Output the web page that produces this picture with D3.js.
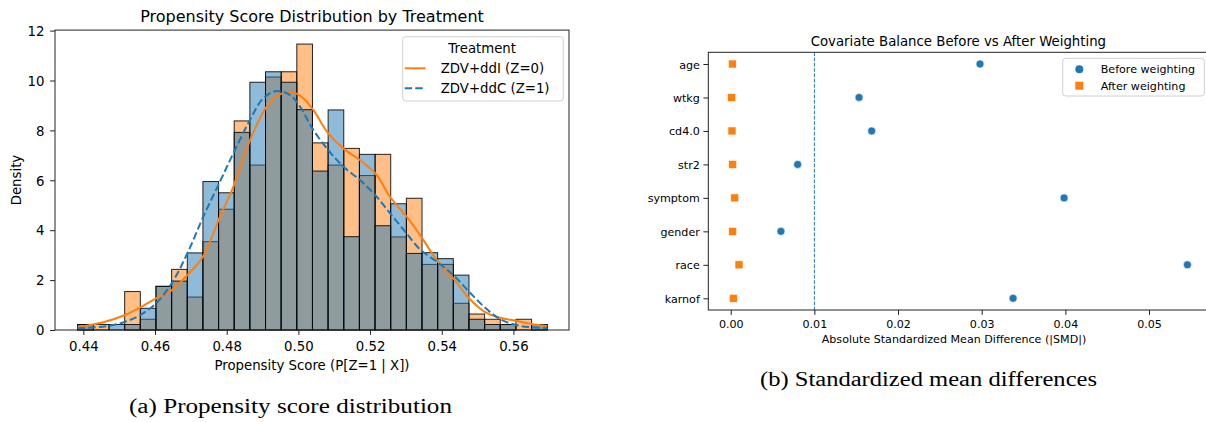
<!DOCTYPE html>
<html>
<head>
<meta charset="utf-8">
<script src="https://cdn.jsdelivr.net/npm/d3@7"></script>
<style>
  body { margin: 0; background: #fff; }
  svg { display: block; }
  text { font-family: "DejaVu Sans", sans-serif; fill: #000; }
  .caption { font-family: "Liberation Serif", serif; }
</style>
</head>
<body>
<svg width="1206" height="422"></svg>
<script>
// ---- data: propensity score histogram (density, 30 bins) ----
const binStart = 0.43844;
const binWidth = 0.004366;
const densZ0 = [0.22, 0.22, 0, 1.54, 0.43, 1.75, 2.43, 1.32, 3.54, 4.84, 8.38, 6.61, 10.14, 10.35, 11.46,
  7.50, 6.61, 7.28, 6.19, 7.04, 3.73, 5.28, 2.63, 2.63, 1.07, 0.64, 0.43, 0.22, 0.43, 0.22];
const densZ1 = [0.22, 0, 0.22, 0.22, 0.87, 1.75, 1.96, 3.09, 5.95, 5.50, 7.92, 9.93, 10.35, 9.93, 8.83,
  6.37, 8.82, 3.74, 7.04, 4.18, 5.06, 3.07, 3.10, 2.86, 2.20, 0.43, 0.22, 0.22, 0, 0.22];

// kde curves: [score, density]
const kdeZ0 = [[0.43844, 0.11], [0.44605, 0.33], [0.45163, 0.60], [0.4559, 0.91], [0.46028, 1.27],
  [0.46466, 1.60], [0.46901, 2.20], [0.47339, 2.94], [0.47813, 4.54], [0.48184, 5.74], [0.4865, 7.60],
  [0.49116, 8.95], [0.49487, 9.45], [0.49821, 9.54], [0.50128, 9.30], [0.50416, 8.82], [0.50834, 7.88],
  [0.51252, 7.28], [0.51718, 6.81], [0.52184, 6.21], [0.52555, 5.34], [0.53021, 4.54], [0.53392, 3.81],
  [0.53858, 2.81], [0.54321, 2.07], [0.54759, 1.27], [0.55197, 0.73], [0.55632, 0.49], [0.5607, 0.37],
  [0.56508, 0.24], [0.56943, 0.16]];
const kdeZ1 = [[0.43844, 0.07], [0.44697, 0.16], [0.45163, 0.33], [0.4559, 0.60], [0.46028, 1.07],
  [0.46466, 1.87], [0.46901, 3.07], [0.47347, 4.54], [0.47813, 5.95], [0.48184, 7.08], [0.4865, 8.42],
  [0.49021, 9.29], [0.49395, 9.58], [0.49766, 9.42], [0.50045, 8.95], [0.50416, 8.02], [0.50834, 7.21],
  [0.51252, 6.55], [0.51718, 6.01], [0.52184, 5.34], [0.52555, 4.68], [0.53021, 3.87], [0.53392, 3.23],
  [0.53858, 2.74], [0.54321, 2.20], [0.54759, 1.54], [0.55197, 0.91], [0.55632, 0.43], [0.5607, 0.20],
  [0.56508, 0.11], [0.56943, 0.07]];

const psTicks = [0.44, 0.46, 0.48, 0.50, 0.52, 0.54, 0.56];
const densTicks = [0, 2, 4, 6, 8, 10, 12];

// ---- data: covariate balance ----
const covariates = ["age", "wtkg", "cd4.0", "str2", "symptom", "gender", "race", "karnof"];
const smdBefore = [0.0298, 0.01534, 0.01685, 0.0080, 0.03985, 0.0060, 0.05459, 0.03375];
const smdAfter = [0.0002, 0.0001, 0.00015, 0.00024, 0.00048, 0.00024, 0.00099, 0.00031];
const smdTicks = [0, 0.01, 0.02, 0.03, 0.04, 0.05];
const smdThreshold = 0.01;

const blue = "#1f77b4";
const orange = "#ff7f0e";

const svg = d3.select("svg");

// ================= left panel =================
const L = { left: 55, right: 569, top: 30.1, bottom: 330 };
const x1 = d3.scaleLinear().domain([0.4321, 0.5755]).range([L.left, L.right]);
const y1 = d3.scaleLinear().domain([0, 12.02]).range([L.bottom, L.top]);

const left = svg.append("g").attr("id", "left");

function bars(dens, color) {
  left.append("g")
    .selectAll("rect")
    .data(dens)
    .enter()
    .append("rect")
    .attr("x", (d, i) => x1(binStart + i * binWidth))
    .attr("width", (d, i) => x1(binStart + (i + 1) * binWidth) - x1(binStart + i * binWidth))
    .attr("y", (d) => y1(d))
    .attr("height", (d) => y1(0) - y1(d))
    .attr("fill", color)
    .attr("fill-opacity", 0.5)
    .attr("stroke", "#000")
    .attr("stroke-opacity", (d) => (d > 0 ? 0.85 : 0))
    .attr("stroke-width", 1);
}
bars(densZ0, orange);
bars(densZ1, blue);

const kdeLine = d3.line()
  .x((d) => x1(d[0]))
  .y((d) => y1(d[1]))
  .curve(d3.curveCatmullRom);

left.append("path")
  .attr("d", kdeLine(kdeZ0))
  .attr("fill", "none")
  .attr("stroke", orange)
  .attr("stroke-width", 2);

left.append("path")
  .attr("d", kdeLine(kdeZ1))
  .attr("fill", "none")
  .attr("stroke", blue)
  .attr("stroke-width", 2)
  .attr("stroke-dasharray", "7.4,3.2");

left.append("rect")
  .attr("x", L.left).attr("y", L.top)
  .attr("width", L.right - L.left).attr("height", L.bottom - L.top)
  .attr("fill", "none").attr("stroke", "#222").attr("stroke-width", 1);

const xAxis1 = left.append("g")
  .attr("transform", `translate(0,${L.bottom})`)
  .call(d3.axisBottom(x1).tickValues(psTicks).tickFormat(d3.format(".2f")).tickSize(4.9).tickPadding(0));
xAxis1.select(".domain").remove();
xAxis1.selectAll("line").attr("stroke", "#222");
xAxis1.selectAll("text").attr("y", 21).attr("dy", null)
  .style("font-size", "13.3px").style("font-family", "DejaVu Sans");

const yAxis1 = left.append("g")
  .attr("transform", `translate(${L.left},0)`)
  .call(d3.axisLeft(y1).tickValues(densTicks).tickSize(4.9).tickPadding(0));
yAxis1.select(".domain").remove();
yAxis1.selectAll("line").attr("stroke", "#222");
yAxis1.selectAll("text").attr("x", -10.5).attr("dy", "0.36em")
  .style("font-size", "13.3px").style("font-family", "DejaVu Sans");

left.append("text")
  .attr("x", (L.left + L.right) / 2).attr("y", 21.5)
  .attr("text-anchor", "middle").style("font-size", "16px")
  .text("Propensity Score Distribution by Treatment");

left.append("text")
  .attr("x", (L.left + L.right) / 2).attr("y", 370)
  .attr("text-anchor", "middle").style("font-size", "13.3px")
  .text("Propensity Score (P[Z=1 | X])");

left.append("text")
  .attr("transform", `translate(21,${(L.top + L.bottom) / 2}) rotate(-90)`)
  .attr("text-anchor", "middle").style("font-size", "13.3px")
  .text("Density");

// legend
const leg1 = left.append("g").attr("transform", "translate(402.7,36.7)");
leg1.append("rect")
  .attr("width", 160.6).attr("height", 64.3).attr("rx", 3)
  .attr("fill", "#fff").attr("fill-opacity", 0.8)
  .attr("stroke", "#d0d0d0").attr("stroke-width", 1);
leg1.append("text").attr("x", 79.5).attr("y", 16.8)
  .attr("text-anchor", "middle").style("font-size", "13.3px").text("Treatment");
const legItems1 = [
  { label: "ZDV+ddI (Z=0)", color: orange, dash: null },
  { label: "ZDV+ddC (Z=1)", color: blue, dash: "7.4,3.2" },
];
legItems1.forEach((d, i) => {
  const yy = 31.6 + i * 20;
  leg1.append("line")
    .attr("x1", 2).attr("x2", 23).attr("y1", yy).attr("y2", yy)
    .attr("stroke", d.color).attr("stroke-width", 2)
    .attr("stroke-dasharray", d.dash);
  leg1.append("text").attr("x", 38).attr("y", yy + 4.8)
    .style("font-size", "13.3px").text(d.label);
});

// ================= right panel =================
const R = { left: 708.3, right: 1208.4, top: 52.3, bottom: 310 };
const x2 = d3.scaleLinear().domain([-0.00268, 0.0571]).range([R.left, R.right]);
const y2 = d3.scaleLinear().domain([-0.35, covariates.length - 1 + 0.35]).range([R.top, R.bottom]);

const right = svg.append("g").attr("id", "right");

right.append("line")
  .attr("x1", x2(smdThreshold)).attr("x2", x2(smdThreshold))
  .attr("y1", R.top).attr("y2", R.bottom)
  .attr("stroke", blue).attr("stroke-width", 1)
  .attr("stroke-dasharray", "3.7,1.6");

right.append("g")
  .selectAll("circle")
  .data(smdBefore)
  .enter()
  .append("circle")
  .attr("cx", (d) => x2(d))
  .attr("cy", (d, i) => y2(i))
  .attr("r", 4)
  .attr("fill", blue)
  .attr("stroke", "#fff").attr("stroke-width", 0.6);

right.append("g")
  .selectAll("rect")
  .data(smdAfter)
  .enter()
  .append("rect")
  .attr("x", (d) => x2(d) - 4)
  .attr("y", (d, i) => y2(i) - 4)
  .attr("width", 8).attr("height", 8)
  .attr("fill", orange)
  .attr("stroke", "#fff").attr("stroke-width", 0.6);

right.append("rect")
  .attr("x", R.left).attr("y", R.top)
  .attr("width", R.right - R.left).attr("height", R.bottom - R.top)
  .attr("fill", "none").attr("stroke", "#222").attr("stroke-width", 1);

const xAxis2 = right.append("g")
  .attr("transform", `translate(0,${R.bottom})`)
  .call(d3.axisBottom(x2).tickValues(smdTicks).tickFormat(d3.format(".2f")).tickSize(4.9).tickPadding(0));
xAxis2.select(".domain").remove();
xAxis2.selectAll("line").attr("stroke", "#222");
xAxis2.selectAll("text").attr("y", 18).attr("dy", null)
  .style("font-size", "11.1px").style("font-family", "DejaVu Sans");

const yAxis2 = right.append("g")
  .attr("transform", `translate(${R.left},0)`)
  .call(d3.axisLeft(y2).tickValues(d3.range(covariates.length)).tickFormat((i) => covariates[i]).tickSize(4.9).tickPadding(0));
yAxis2.select(".domain").remove();
yAxis2.selectAll("line").attr("stroke", "#222");
yAxis2.selectAll("text").attr("x", -8.5).attr("dy", "0.36em")
  .style("font-size", "11.1px").style("font-family", "DejaVu Sans");

right.append("text")
  .attr("x", (R.left + R.right) / 2).attr("y", 46)
  .attr("text-anchor", "middle").style("font-size", "13.3px")
  .text("Covariate Balance Before vs After Weighting");

right.append("text")
  .attr("x", 954).attr("y", 343)
  .attr("text-anchor", "middle").style("font-size", "11.1px")
  .text("Absolute Standardized Mean Difference (|SMD|)");

const leg2 = right.append("g").attr("transform", "translate(1062.7,58.3)");
leg2.append("rect")
  .attr("width", 141.6).attr("height", 37.7).attr("rx", 3)
  .attr("fill", "#fff").attr("fill-opacity", 0.8)
  .attr("stroke", "#d0d0d0").attr("stroke-width", 1);
leg2.append("circle").attr("cx", 16.6).attr("cy", 11).attr("r", 4).attr("fill", blue);
leg2.append("rect").attr("x", 12.6).attr("y", 23.4).attr("width", 8).attr("height", 8).attr("fill", orange);
leg2.append("text").attr("x", 38).attr("y", 15).style("font-size", "11.1px").text("Before weighting");
leg2.append("text").attr("x", 38).attr("y", 31.4).style("font-size", "11.1px").text("After weighting");

// ================= captions =================
svg.append("text").attr("class", "caption")
  .attr("x", 129).attr("y", 413)
  .style("font-size", "20px")
  .attr("textLength", 323).attr("lengthAdjust", "spacingAndGlyphs")
  .text("(a) Propensity score distribution");

svg.append("text").attr("class", "caption")
  .attr("x", 760).attr("y", 386)
  .style("font-size", "20px")
  .attr("textLength", 337).attr("lengthAdjust", "spacingAndGlyphs")
  .text("(b) Standardized mean differences");
</script>
</body>
</html>
